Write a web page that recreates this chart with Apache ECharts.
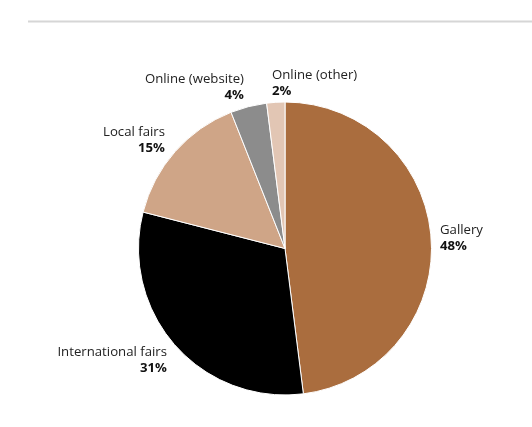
<!DOCTYPE html>
<html>
<head>
<meta charset="utf-8">
<script src="https://cdn.jsdelivr.net/npm/echarts@6/dist/echarts.min.js"></script>
<style>
html,body{margin:0;padding:0;background:#fff;}
#chart{width:532px;height:427px;}
</style>
</head>
<body>
<div id="chart"></div>
<script>
const categories = ["Gallery", "International fairs", "Local fairs", "Online (website)", "Online (other)"];
const values = [48, 31, 15, 4, 2];
const colors = ["#aa6d3e", "#000000", "#cfa587", "#8c8c8c", "#e2c6b4"];

// label anchor placement (layout only)
const labelPos = [
  {x: 440, y: 238.5, align: "left"},
  {x: 167, y: 360.5, align: "right"},
  {x: 165, y: 140.5, align: "right"},
  {x: 244, y: 87.5, align: "right"},
  {x: 272, y: 83, align: "left"}
];

const chart = echarts.init(document.getElementById('chart'), null, {renderer: 'canvas'});
chart.setOption({
  animation: false,
  backgroundColor: '#ffffff',
  graphic: [{
    type: 'line',
    shape: {x1: 28, y1: 21.5, x2: 532, y2: 21.5},
    style: {stroke: '#d6d6d6', lineWidth: 2}
  }],
  series: [{
    type: 'pie',
    center: [285, 248.5],
    radius: [0, 146.5],
    startAngle: 90,
    clockwise: true,
    avoidLabelOverlap: false,
    itemStyle: {borderColor: '#ffffff', borderWidth: 1},
    labelLine: {show: false},
    label: {
      show: true,
      position: 'outside',
      formatter: p => '{n|' + p.name + '}\n{v|' + p.value + '%}',
      rich: {
        n: {fontFamily: 'Open Sans', fontSize: 13.2, color: '#222', lineHeight: 16},
        v: {fontFamily: 'Open Sans', fontSize: 13.2, fontWeight: 'bold', color: '#111', lineHeight: 16}
      }
    },
    labelLayout: p => {
      const lp = labelPos[p.dataIndex];
      return {x: lp.x, y: lp.y, align: lp.align, verticalAlign: 'middle'};
    },
    emphasis: {disabled: true},
    data: categories.map((c, i) => ({name: c, value: values[i], itemStyle: {color: colors[i]}}))
  }]
});
</script>
</body>
</html>
